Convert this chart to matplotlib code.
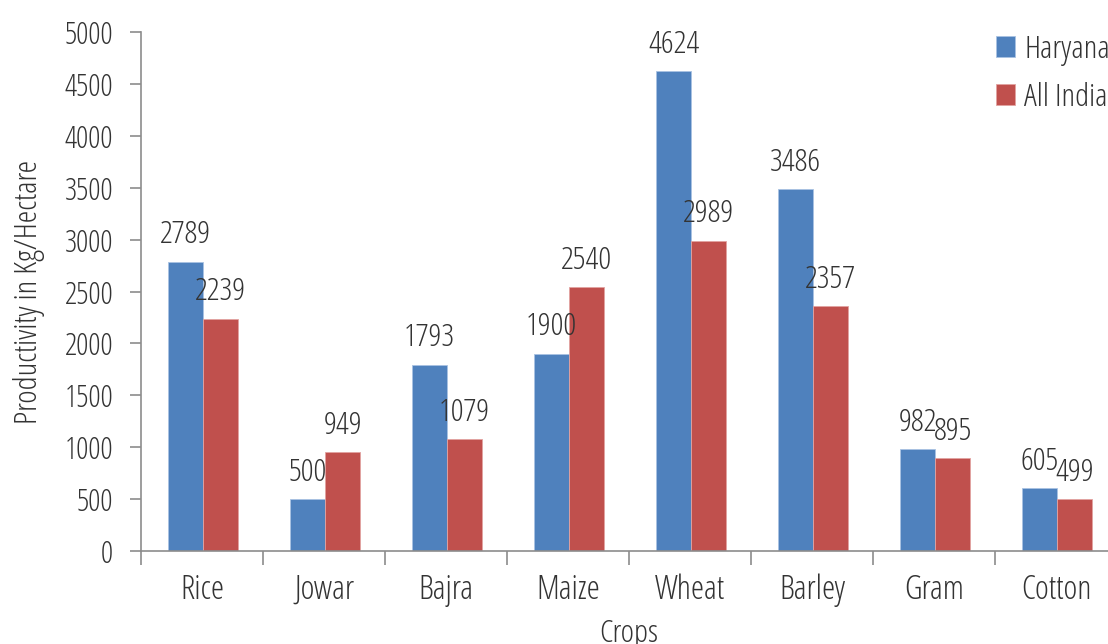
import matplotlib.pyplot as plt
import numpy as np

crops = ["Rice", "Jowar", "Bajra", "Maize", "Wheat", "Barley", "Gram", "Cotton"]
haryana = [2789, 500, 1793, 1900, 4624, 3486, 982, 605]
all_india = [2239, 949, 1079, 2540, 2989, 2357, 895, 499]

plt.rcParams['font.family'] = ['Open Sans', 'DejaVu Sans']
plt.rcParams['font.stretch'] = 'condensed'
plt.rcParams['font.weight'] = 300
text_col = "#333333"
axis_col = "#8c8c8c"

fig = plt.figure(figsize=(11.08, 6.44), dpi=100)
ax = fig.add_axes([141/1108, 93/644, 976/1108, 519/644])

x = np.arange(len(crops))
w = 0.287
b1 = ax.bar(x - w/2 + 0.01, haryana, w, color="#4f81bd", edgecolor="#a9c2e2", linewidth=0.6, label="Haryana")
b2 = ax.bar(x + w/2 + 0.01, all_india, w, color="#c0504d", edgecolor="#e2a3a1", linewidth=0.6, label="All India")

# value labels above each bar
for bars in (b1, b2):
    for r in bars:
        ax.annotate(f"{int(r.get_height())}", (r.get_x() + r.get_width()/2, r.get_height()),
                    xytext=(0, 19), textcoords="offset points", ha="center", va="center",
                    fontsize=23, color=text_col)

ax.set_xlim(-0.5, len(crops) - 0.5)
ax.set_ylim(0, 5000)
ax.set_yticks(np.arange(0, 5001, 500))

# category labels in between boundary ticks
ax.set_xticks(np.arange(-0.5, len(crops), 1))
ax.set_xticklabels([])
ax.set_xticks(x, minor=True)
ax.set_xticklabels(crops, minor=True)
ax.tick_params(axis="x", which="major", length=10, width=1.2, color=axis_col)
ax.tick_params(axis="x", which="minor", length=0, pad=16, labelsize=24, labelcolor=text_col)
ax.tick_params(axis="y", length=8, width=1.2, color=axis_col, pad=12, labelsize=22, labelcolor=text_col)

for s in ["top", "right"]:
    ax.spines[s].set_visible(False)
for s in ["left", "bottom"]:
    ax.spines[s].set_color(axis_col)
    ax.spines[s].set_linewidth(1.2)

ax.set_ylabel("Productivity in Kg/Hectare", fontsize=23, color=text_col, labelpad=14)
ax.set_xlabel("Crops", fontsize=23, color=text_col, labelpad=8)

ax.legend(loc="upper left", bbox_to_anchor=(826/976, 1.052), frameon=False, fontsize=23,
          handlelength=0.6, handleheight=0.6, handletextpad=0.3, labelspacing=0.5,
          labelcolor=text_col)

fig.savefig("out.png", dpi=100)
